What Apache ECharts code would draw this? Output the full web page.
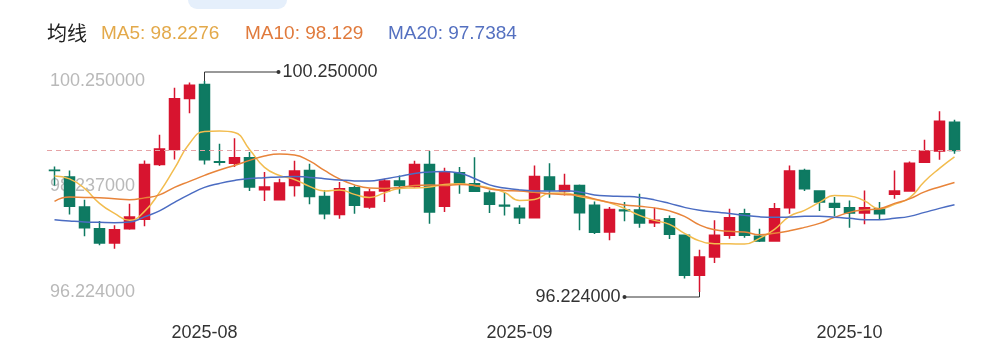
<!DOCTYPE html>
<html><head><meta charset="utf-8">
<script src="https://cdn.jsdelivr.net/npm/echarts@6/dist/echarts.min.js"></script>
<style>html,body{margin:0;padding:0;background:#fff}#c{width:1000px;height:362px}</style>
</head><body><div id="c"></div>
<script>
const dates = [
'2025-07-18','2025-07-21','2025-07-22','2025-07-23','2025-07-24','2025-07-25','2025-07-28','2025-07-29','2025-07-30','2025-07-31',
'2025-08-01','2025-08-04','2025-08-05','2025-08-06','2025-08-07','2025-08-08','2025-08-11','2025-08-12','2025-08-13','2025-08-14','2025-08-15',
'2025-08-18','2025-08-19','2025-08-20','2025-08-21','2025-08-22','2025-08-25','2025-08-26','2025-08-27','2025-08-28','2025-08-29',
'2025-09-01','2025-09-02','2025-09-03','2025-09-04','2025-09-05','2025-09-08','2025-09-09','2025-09-10','2025-09-11','2025-09-12',
'2025-09-15','2025-09-16','2025-09-17','2025-09-18','2025-09-19','2025-09-22','2025-09-23','2025-09-24','2025-09-25','2025-09-26',
'2025-09-29','2025-09-30',
'2025-10-09','2025-10-10','2025-10-13','2025-10-14','2025-10-15','2025-10-16','2025-10-17','2025-10-20'];

const opens = [98.548,98.416,97.844,97.433,97.158,97.433,97.610,98.658,98.944,99.916,
100.183,98.708,98.683,98.786,98.176,97.982,98.258,98.544,98.048,97.705,
98.214,97.844,98.149,98.340,98.239,98.658,97.858,98.500,98.290,98.111,
97.877,97.820,97.642,98.420,98.149,98.258,97.877,97.368,97.787,97.787,
97.543,97.623,97.305,96.542,96.891,97.305,97.719,97.286,97.196,97.833,
98.544,98.149,97.915,97.833,97.730,97.814,98.087,98.149,98.702,98.912,99.465];
const closes = [98.540,97.858,97.452,97.158,97.414,97.654,98.658,98.954,99.911,100.170,
98.748,98.698,98.786,98.226,98.226,98.302,98.531,98.048,97.715,98.195,
97.877,98.130,98.340,98.258,98.658,97.749,98.512,98.302,98.144,97.896,
97.863,97.639,98.430,98.168,98.258,97.734,97.362,97.797,97.776,97.539,
97.595,97.324,96.542,96.891,97.305,97.642,97.305,97.196,97.814,98.531,
98.195,97.940,97.839,97.730,97.833,97.719,98.149,98.683,98.912,99.484,98.925];
const lows = [98.258,97.705,97.286,97.114,97.051,97.414,97.477,98.630,98.754,99.636,
98.658,98.639,98.607,98.149,97.959,97.968,98.048,97.896,97.610,97.623,
97.719,97.814,97.940,98.100,98.214,97.528,97.749,98.100,98.130,97.730,
97.686,97.520,97.639,98.020,98.067,97.400,97.330,97.210,97.572,97.452,
97.463,97.234,96.480,96.224,96.777,97.242,97.261,97.177,97.196,97.719,
98.149,97.768,97.667,97.452,97.515,97.604,98.005,98.149,98.702,98.748,98.862];
const highs = [98.620,98.544,97.985,97.578,97.496,97.909,98.735,99.225,100.120,100.220,
100.250,99.053,99.160,98.893,98.512,98.386,98.729,98.672,98.172,98.321,
98.258,98.195,98.386,98.449,98.729,98.912,98.595,98.607,98.797,98.163,
98.130,97.877,98.639,98.683,98.481,98.277,97.949,97.844,97.940,98.100,
97.833,97.686,97.310,97.028,97.591,97.814,97.814,97.433,97.921,98.639,
98.576,98.163,98.039,97.972,98.163,97.940,98.544,98.716,99.129,99.674,99.510];

const ma5 = [98.439,98.382,98.201,97.915,97.724,97.591,97.762,98.125,98.582,99.059,
99.287,99.297,99.268,98.944,98.601,98.449,98.372,98.239,98.153,98.172,
98.087,98.029,98.115,98.201,98.210,98.226,98.277,98.290,98.258,98.210,
98.125,97.972,97.991,98.106,98.115,98.048,97.991,97.924,97.820,97.686,
97.591,97.515,97.343,97.200,97.147,97.143,97.139,97.248,97.419,97.667,
97.782,97.934,98.067,98.058,97.963,97.814,97.896,98.020,98.334,98.582,98.801];
const ma10 = [97.953,98.035,98.029,98.024,98.005,97.985,98.020,98.077,98.220,98.334,
98.449,98.553,98.639,98.735,98.820,98.858,98.839,98.725,98.544,98.382,
98.268,98.210,98.201,98.220,98.258,98.268,98.258,98.277,98.258,98.191,
98.163,98.153,98.125,98.100,98.083,98.067,98.001,97.934,97.886,97.858,
97.829,97.772,97.667,97.505,97.410,97.381,97.368,97.314,97.343,97.391,
97.457,97.534,97.648,97.743,97.791,97.814,97.915,98.001,98.134,98.229,98.315];
const ma20 = [97.604,97.581,97.562,97.553,97.547,97.558,97.658,97.772,97.934,98.087,
98.220,98.296,98.353,98.391,98.405,98.420,98.430,98.410,98.386,98.363,
98.344,98.340,98.382,98.430,98.487,98.512,98.525,98.493,98.391,98.268,
98.210,98.172,98.153,98.149,98.157,98.134,98.077,98.058,98.048,98.029,
97.982,97.915,97.839,97.782,97.749,97.724,97.686,97.658,97.648,97.654,
97.667,97.667,97.652,97.629,97.604,97.604,97.629,97.667,97.743,97.820,97.890];

const yTicks = [96.224, 98.237, 100.25];
const legendTitle = '均线';
const legendNames = ['MA5', 'MA10', 'MA20'];
const legendValues = ['98.2276', '98.129', '97.7384'];

const UP = '#d7142f', DOWN = '#0e7a62';
const lineColors = ['#f2bc4e', '#e8843a', '#4b6cc2'];
const legendColors = ['#e3a94a', '#e07a3c', '#5470c0'];
const legendX = [101, 245, 388];
const FONT = "'Liberation Sans', Arial, sans-serif";

const chart = echarts.init(document.getElementById('c'), null, {renderer: 'canvas'});
const kData = dates.map((d, i) => [opens[i], closes[i], lows[i], highs[i]]);

const option = {
  animation: false,
  backgroundColor: '#fff',
  grid: {left: 47, right: 38, top: 81, bottom: 70},
  xAxis: {
    type: 'category', data: dates, boundaryGap: true,
    axisLine: {show: false}, axisTick: {show: false}, splitLine: {show: false},
    axisLabel: {
      color: '#333', fontSize: 18, fontFamily: FONT, margin: 32,
      interval: (idx) => idx > 0 && dates[idx].slice(0, 7) !== dates[idx - 1].slice(0, 7),
      formatter: (v) => v.slice(0, 7)
    }
  },
  yAxis: {
    type: 'value', min: yTicks[0], max: yTicks[yTicks.length - 1], scale: true,
    axisLine: {show: false}, axisTick: {show: false}, splitLine: {show: false},
    axisLabel: {
      inside: true, margin: 3, color: '#b9b9b9', fontSize: 18, fontFamily: FONT,
      customValues: yTicks, formatter: (v) => v.toFixed(6)
    }
  },
  series: [
    {
      type: 'candlestick', data: kData, barWidth: 10,
      itemStyle: {color: UP, color0: DOWN, borderColor: UP, borderColor0: DOWN, borderWidth: 1.5},
      markLine: {
        silent: true, symbol: ['none', 'none'], label: {show: false},
        lineStyle: {color: '#e6a3a6', type: [5, 4], width: 1},
        data: [{yAxis: closes[closes.length - 1]}]
      }
    },
    {type: 'line', name: 'MA5', data: ma5, smooth: true, showSymbol: false, lineStyle: {color: lineColors[0], width: 1.5}, z: 3},
    {type: 'line', name: 'MA10', data: ma10, smooth: true, showSymbol: false, lineStyle: {color: lineColors[1], width: 1.5}, z: 3},
    {type: 'line', name: 'MA20', data: ma20, smooth: true, showSymbol: false, lineStyle: {color: lineColors[2], width: 1.5}, z: 3}
  ]
};
chart.setOption(option);

// annotations for extreme values, positioned through the chart's own scales
const hiVal = Math.max(...highs), hiIdx = highs.indexOf(hiVal);
const loVal = Math.min(...lows), loIdx = lows.indexOf(loVal);
const pHi = chart.convertToPixel({gridIndex: 0}, [hiIdx, hiVal]);
const pLo = chart.convertToPixel({gridIndex: 0}, [loIdx, loVal]);
const hiY = pHi[1] - 9, hiEnd = pHi[0] + 74;
const loY = pLo[1] + 5, loEnd = pLo[0] - 75;

const graphics = [
  {type: 'rect', shape: {x: 188, y: -12, width: 99, height: 21, r: 9}, style: {fill: '#e5effb'}, silent: true},
  {type: 'text', left: 47, top: 23, style: {text: legendTitle, fill: '#222', font: "20px 'Noto Sans CJK SC', sans-serif"}},
  ...legendNames.map((n, i) => ({type: 'text', left: legendX[i], top: 24,
    style: {text: n + ': ' + legendValues[i], fill: legendColors[i], font: '19px ' + FONT}})),
  {type: 'polyline', shape: {points: [[pHi[0], pHi[1]], [pHi[0], hiY], [hiEnd, hiY]]}, style: {stroke: '#333', lineWidth: 1, fill: null}, z: 10},
  {type: 'circle', shape: {cx: hiEnd, cy: hiY, r: 2}, style: {fill: '#333'}, z: 10},
  {type: 'text', x: hiEnd + 4, y: hiY, style: {text: hiVal.toFixed(6), fill: '#333', font: '18px ' + FONT, textVerticalAlign: 'middle', verticalAlign: 'middle'}, z: 10},
  {type: 'polyline', shape: {points: [[pLo[0], pLo[1]], [pLo[0], loY], [loEnd, loY]]}, style: {stroke: '#333', lineWidth: 1, fill: null}, z: 10},
  {type: 'circle', shape: {cx: loEnd, cy: loY, r: 2}, style: {fill: '#333'}, z: 10},
  {type: 'text', x: loEnd - 4, y: loY, style: {text: loVal.toFixed(6), fill: '#333', font: '18px ' + FONT, align: 'right', textAlign: 'right', verticalAlign: 'middle', textVerticalAlign: 'middle'}, z: 10}
];
chart.setOption({graphic: graphics});
</script>
</body></html>
